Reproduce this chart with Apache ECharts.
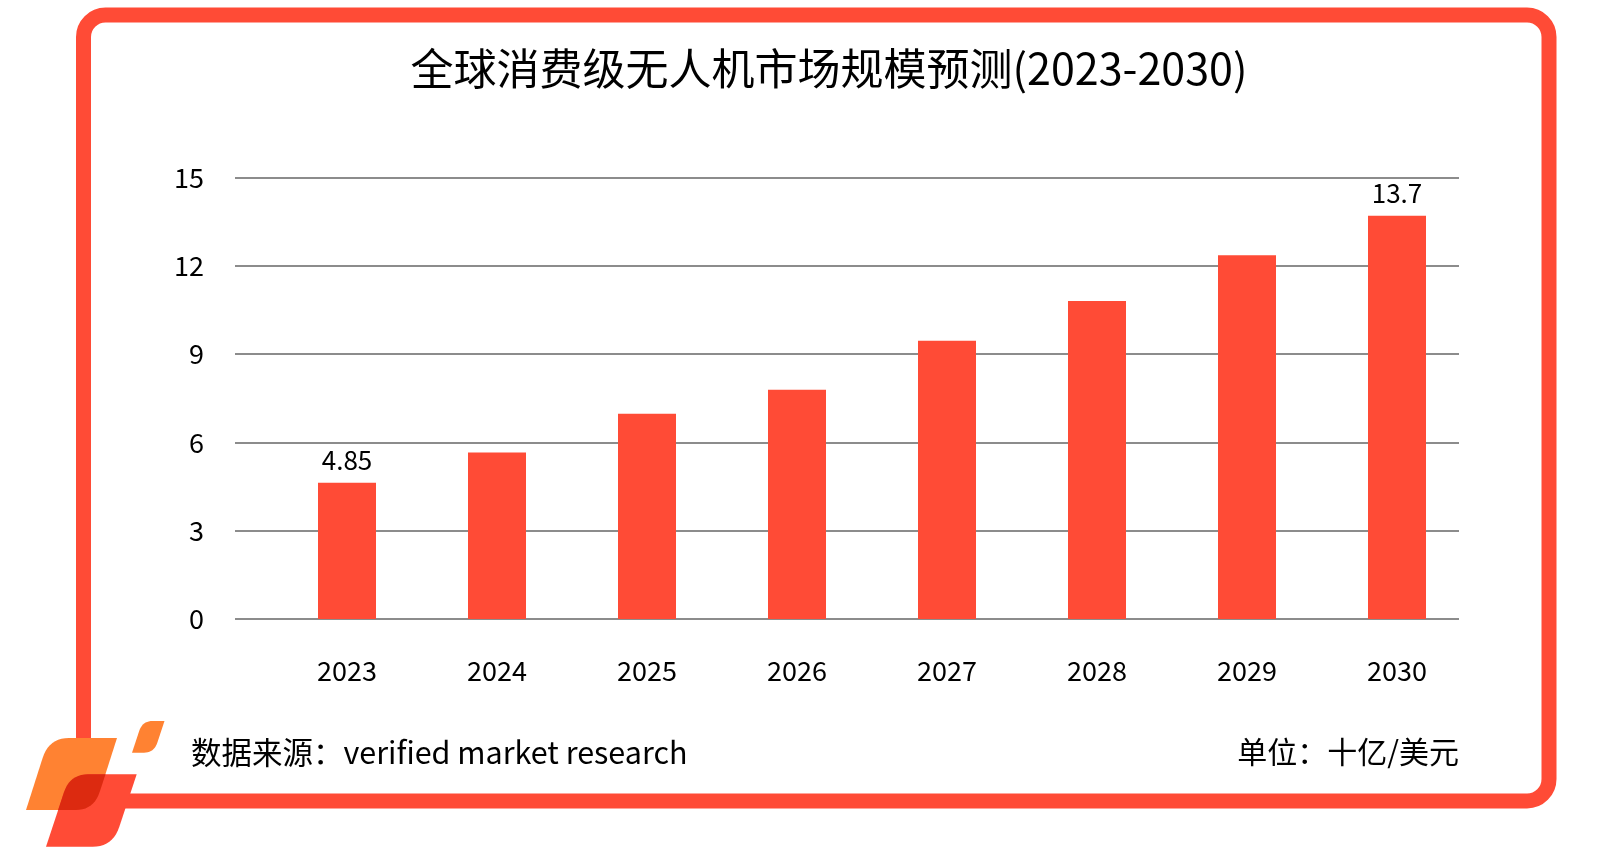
<!DOCTYPE html>
<html>
<head>
<meta charset="utf-8">
<script src="https://cdn.jsdelivr.net/npm/echarts@6/dist/echarts.min.js"></script>
<style>
html,body{margin:0;padding:0;background:#fff;}
#chart{width:1600px;height:850px;}
</style>
</head>
<body>
<div id="chart"></div>
<script>
// ---- data ----
const titleText = '全球消费级无人机市场规模预测(2023-2030)';
const years = ['2023', '2024', '2025', '2026', '2027', '2028', '2029', '2030'];
const marketSize = [4.63, 5.66, 6.97, 7.79, 9.45, 10.8, 12.36, 13.7];
const barLabels = ['4.85', '', '', '', '', '', '', '13.7'];
const yTicks = [0, 3, 6, 9, 12, 15];
const sourceText = '数据来源：verified market research';
const unitText = '单位：十亿/美元';

// ---- style ----
const RED = '#FF4B36';
const ORANGE = '#FF8232';
const DARK = '#DC2A10';
const FONT = '"Noto Sans CJK SC", "Noto Sans", sans-serif';

// rounded parallelogram (top-left and bottom-right corners rounded) as polygon points
function quad(p0, p1, p2, n, out) {
  for (let i = 1; i <= n; i++) {
    const t = i / n, a = (1 - t) * (1 - t), b = 2 * (1 - t) * t, c = t * t;
    out.push([a * p0[0] + b * p1[0] + c * p2[0], a * p0[1] + b * p1[1] + c * p2[1]]);
  }
}
function leaf(xBL, yB, w, h, shift, r) {
  const yT = yB - h;
  const k = shift / h;
  const TL = [xBL + shift, yT], TR = [xBL + w + shift, yT], BR = [xBL + w, yB];
  const pts = [[xBL, yB], [TL[0] - k * r, yT + r]];
  quad([TL[0] - k * r, yT + r], TL, [TL[0] + r, yT], 10, pts);
  pts.push(TR);
  pts.push([BR[0] + k * r, yB - r]);
  quad([BR[0] + k * r, yB - r], BR, [BR[0] - r, yB], 10, pts);
  return pts;
}

const chart = echarts.init(document.getElementById('chart'), null, {renderer: 'canvas'});
const yMin = yTicks[0], yMax = yTicks[yTicks.length - 1], yStep = yTicks[1] - yTicks[0];

const option = {
  backgroundColor: '#fff',
  animation: false,
  grid: [
    {left: 235, right: 141, top: 177.5, bottom: 231},
    {left: 272, right: 128, top: 177.5, bottom: 231}
  ],
  xAxis: [
    {type: 'category', gridIndex: 0, data: years, show: false},
    {
      type: 'category', gridIndex: 1, data: years,
      axisLine: {show: false}, axisTick: {show: false},
      axisLabel: {color: '#000', fontSize: 27, fontFamily: FONT, margin: 38}
    }
  ],
  yAxis: [
    {
      type: 'value', gridIndex: 0, min: yMin, max: yMax, interval: yStep,
      axisLine: {show: false}, axisTick: {show: false},
      axisLabel: {color: '#000', fontSize: 27, fontFamily: FONT, margin: 31},
      splitLine: {show: true, lineStyle: {color: '#8C8C8C', width: 2}}
    },
    {
      type: 'value', gridIndex: 1, min: yMin, max: yMax, interval: yStep,
      show: false, splitLine: {show: false}
    }
  ],
  series: [{
    type: 'bar',
    xAxisIndex: 1, yAxisIndex: 1,
    data: marketSize,
    barWidth: 58,
    itemStyle: {color: RED},
    label: {
      show: true, position: 'top', distance: 10,
      color: '#000', fontSize: 26, fontFamily: FONT,
      formatter: p => barLabels[p.dataIndex]
    }
  }],
  graphic: [
    {
      type: 'rect', z: 10,
      shape: {x: 83.5, y: 15, width: 1465.5, height: 786, r: 22},
      style: {fill: 'transparent', stroke: RED, lineWidth: 15}
    },
    {
      type: 'text', z: 20, x: 829, y: 69,
      style: {text: titleText, fill: '#000', font: '43px ' + FONT, textAlign: 'center', textVerticalAlign: 'middle'}
    },
    {
      type: 'text', z: 20, x: 191, y: 752,
      style: {text: sourceText, fill: '#000', font: '30.5px ' + FONT, textAlign: 'left', textVerticalAlign: 'middle'}
    },
    {
      type: 'text', z: 20, x: 1459, y: 752,
      style: {text: unitText, fill: '#000', font: '30px ' + FONT, textAlign: 'right', textVerticalAlign: 'middle'}
    },
    // logo
    {type: 'polygon', z: 30, shape: {points: leaf(26, 810, 68, 72, 23, 20)}, style: {fill: ORANGE}},
    {type: 'polygon', z: 30, shape: {points: leaf(132, 752.7, 22, 31.7, 10.5, 10)}, style: {fill: ORANGE}},
    {type: 'polygon', z: 31, shape: {points: leaf(46, 846.7, 66.7, 72.4, 24, 20)}, style: {fill: RED}},
    {type: 'polygon', z: 32, shape: {points: leaf(58.1, 810, 35.6, 35.7, 11.8, 18)}, style: {fill: DARK}}
  ]
};
chart.setOption(option);
</script>
</body>
</html>
